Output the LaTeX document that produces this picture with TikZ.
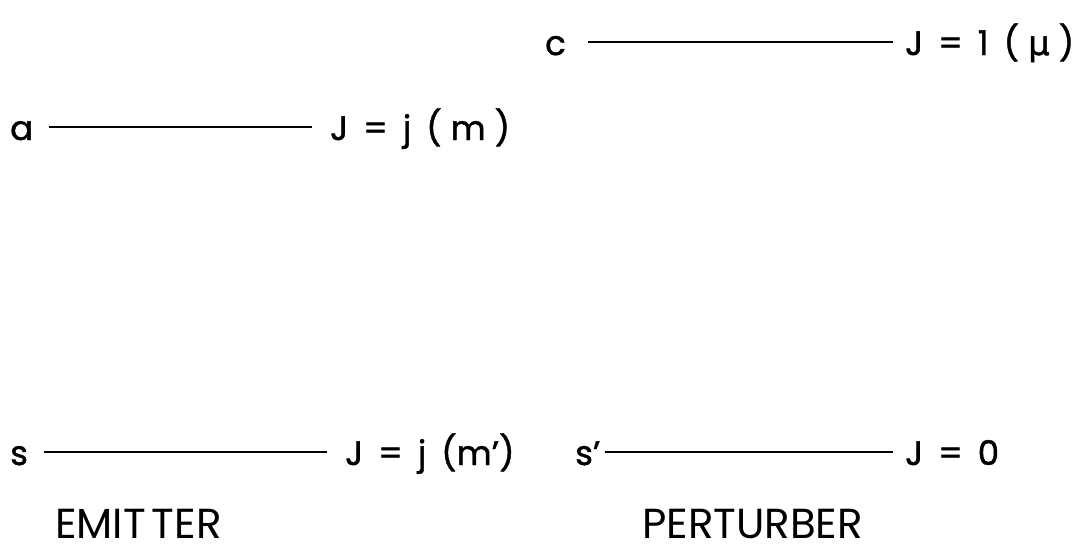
\documentclass[tikz,border=0pt]{standalone}
\usepackage{fontspec}
\setmainfont{Poppins}
\newfontfamily\labfont{Poppins}[FakeBold=1.3]
\newfontfamily\greekfont{DejaVu Sans}[FakeBold=1.3]
\usetikzlibrary{positioning}

\newcommand{\gp}{\hskip 15pt}
\newcommand{\pp}{\hskip 9pt}

\begin{document}
\begin{tikzpicture}[
    x=1pt, y=-1pt,
    lvl/.style={font=\fontsize{34}{38}\labfont, inner sep=0pt, anchor=base west},
    side/.style={font=\fontsize{42}{46}\selectfont, inner sep=0pt, anchor=base west},
    level/.style={line width=2.6pt, shorten <=16pt, shorten >=18pt}
  ]
    \useasboundingbox (0,0) rectangle (1092,554);
    % emitter levels
    \node[lvl] (a) at (10,140) {a};
    \node[lvl] (ja) at (330,140) {J\gp=\gp j\gp (\pp m\pp)};
    \node[lvl] (s) at (10,465) {s};
    \node[lvl] (js) at (345,465) {J\gp=\gp j\gp(m’)};
    % perturber levels
    \node[lvl] (c) at (545,55) {c};
    \node[lvl] (jc) at (905,55) {J\gp=\gp 1\gp (\pp{\greekfont μ}\pp)};
    \node[lvl] (sp) at (575,465) {s’};
    \node[lvl] (jsp) at (905,465) {J\gp=\gp 0};
    \draw[level] ([yshift=13pt]a.base east) -- ([yshift=13pt]ja.base west);
    \draw[level] ([yshift=13pt]s.base east) -- ([yshift=13pt]js.base west);
    \draw[level, shorten <=22pt, shorten >=12pt] ([yshift=13pt]c.base east) -- ([yshift=13pt]jc.base west);
    \draw[level, shorten <=4pt, shorten >=12pt] ([yshift=13pt]sp.base east) -- ([yshift=13pt]jsp.base west);
    % captions
    \node[side] (emit) at (55,538) {EMIT\kern6pt TER};
    \node[side] (pert) at (642,538) {PERTURBER};
  \end{tikzpicture}
\end{document}
